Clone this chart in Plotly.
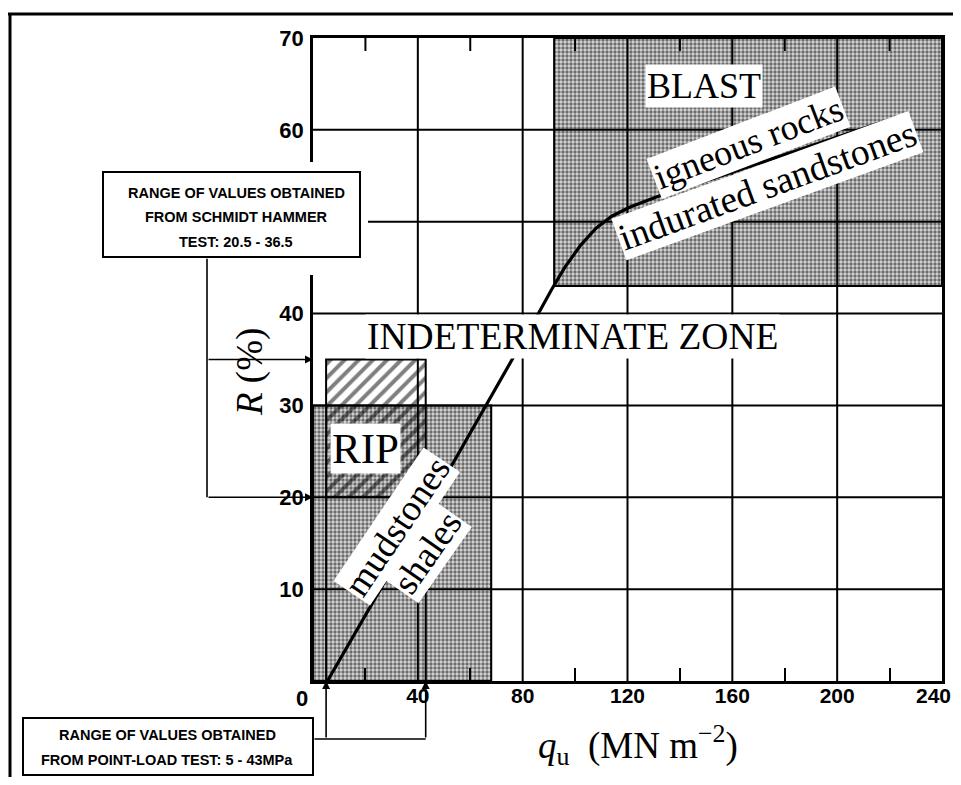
import plotly.graph_objects as go

# ---------------- data ----------------
q_tick_vals = [40, 80, 120, 160, 200, 240]
q_tick_text = ["40", "80", "120", "160", "200", "240"]
q_minor_ticks = [20, 60, 100, 140, 180, 220]
r_tick_vals = [10, 20, 30, 40, 60, 70]
r_tick_text = ["10", "20", "30", "40", "60", "70"]
grid_q = [40, 80, 120, 160, 200]
grid_r = [10, 20, 30, 40, 50, 60]

# boundary curve between rock types
curve_q = [5.5, 46, 86, 91, 96, 102, 108, 114, 121, 131, 160, 180, 200, 223]
curve_r = [0.0, 20.0, 40.0, 42.6, 45.0, 47.4, 49.3, 50.6, 51.6, 52.7, 55.4, 57.3, 59.2, 61.4]

# zones
rip_q = [0, 68]
rip_r = [0, 30]
blast_q = [92, 240]
blast_r = [43, 70]
schmidt_r = [20, 35]        # Schmidt hammer range (as drawn)
pointload_q = [5, 43]       # point-load range

Q_RANGE = [0, 240]
R_RANGE = [0, 70]

# ---------------- figure ----------------
OFF = 8                       # page body margin
W, H = 961 - OFF, 785 - 2 * OFF
ML, MT = 313 - OFF, 38 - OFF
PW, PH = 629, 643
MR, MB = W - ML - PW, H - MT - PH


def px_x(p):  # page pixel -> paper
    return (p - OFF - ML) / PW


def px_y(p):
    return (H - MB - (p - OFF)) / PH


def rect(qs, rs):
    return [qs[0], qs[1], qs[1], qs[0], qs[0]], [rs[0], rs[0], rs[1], rs[1], rs[0]]


fig = go.Figure()

stipple = dict(shape=".", size=4, solidity=0.55, fgcolor="black", bgcolor="#d8d8d8")

x, y = rect(rip_q, rip_r)
fig.add_trace(go.Scatter(x=x, y=y, mode="lines", fill="toself", fillcolor="white",
                         fillpattern=stipple, line=dict(color="black", width=2),
                         hoverinfo="skip", showlegend=False))
x, y = rect(blast_q, blast_r)
fig.add_trace(go.Scatter(x=x, y=y, mode="lines", fill="toself", fillcolor="white",
                         fillpattern=stipple, line=dict(color="black", width=2),
                         hoverinfo="skip", showlegend=False))
x, y = rect(pointload_q, schmidt_r)
fig.add_trace(go.Scatter(x=x, y=y, mode="lines", fill="toself", fillcolor="rgba(0,0,0,0)",
                         fillpattern=dict(shape="/", size=10, solidity=0.4, fgcolor="black",
                                          bgcolor="rgba(0,0,0,0)"),
                         line=dict(color="black", width=2),
                         hoverinfo="skip", showlegend=False))
# vertical guides from the point-load range up to the hatched box
for qv in pointload_q:
    fig.add_trace(go.Scatter(x=[qv, qv], y=[0, schmidt_r[0]], mode="lines",
                             line=dict(color="black", width=2), hoverinfo="skip", showlegend=False))

fig.add_trace(go.Scatter(x=curve_q, y=curve_r, mode="lines", line=dict(color="black", width=3.2),
                         hoverinfo="skip", showlegend=False))

shapes = []
for gq in grid_q:
    shapes.append(dict(type="line", xref="x", yref="y", x0=gq, x1=gq, y0=R_RANGE[0], y1=R_RANGE[1],
                       line=dict(color="black", width=2), layer="above"))
for gr in grid_r:
    shapes.append(dict(type="line", xref="x", yref="y", x0=Q_RANGE[0], x1=Q_RANGE[1], y0=gr, y1=gr,
                       line=dict(color="black", width=2), layer="above"))
# inward minor ticks on the top edge
for mq in q_minor_ticks:
    shapes.append(dict(type="line", xref="x", yref="y", x0=mq, x1=mq, ysizemode="pixel",
                       yanchor=R_RANGE[1], y0=0, y1=-13, line=dict(color="black", width=2),
                       layer="above"))
# white area around the Schmidt box
shapes.append(dict(type="rect", xref="paper", yref="paper", x0=px_x(292), x1=px_x(368),
                   y0=px_y(275), y1=px_y(162), fillcolor="white", line=dict(width=0), layer="above"))
# annotation boxes
shapes.append(dict(type="rect", xref="paper", yref="paper", x0=px_x(103), x1=px_x(360),
                   y0=px_y(257), y1=px_y(172), fillcolor="white", line=dict(color="black", width=2),
                   layer="above"))
shapes.append(dict(type="rect", xref="paper", yref="paper", x0=px_x(23), x1=px_x(313),
                   y0=px_y(775), y1=px_y(718), fillcolor="white", line=dict(color="black", width=2),
                   layer="above"))
# outer frame (top and left)
shapes.append(dict(type="line", xref="paper", yref="paper", x0=px_x(7), x1=px_x(975),
                   y0=px_y(14), y1=px_y(14), line=dict(color="black", width=3)))
shapes.append(dict(type="line", xref="paper", yref="paper", x0=px_x(10), x1=px_x(10),
                   y0=px_y(14), y1=px_y(782), line=dict(color="black", width=3)))

serif = "Liberation Serif, Times New Roman, serif"
sans = "Liberation Sans, Arial, sans-serif"

ann = []


def label(text, q, r, size, angle=0, bg="white"):
    ann.append(dict(text=text, x=q, y=r, xref="x", yref="y", showarrow=False, textangle=angle,
                    xanchor="center", yanchor="middle",
                    font=dict(family=serif, size=size, color="black"), bgcolor=bg, borderpad=1))


def ptext(text, px, py, font, angle=0, xanchor="center"):
    ann.append(dict(text=text, x=px_x(px), y=px_y(py), xref="paper", yref="paper", showarrow=False,
                    xanchor=xanchor, yanchor="middle", textangle=angle, font=font))


label("BLAST", 149, 64.8, 36)
label("igneous rocks", 166.0, 58.6, 36, -21)
label("indurated sandstones", 173.5, 53.9, 37.5, -20)
label("INDETERMINATE ZONE", 98.9, 37.5, 37.5)
label("RIP", 20.2, 25.3, 43)
label("mudstones", 32, 16.8, 37, -56)
label("shales", 43.5, 14.0, 37, -55)

titlefont = dict(family=serif, size=37, color="black")
ptext("<i>q</i><sub>u</sub>  (MN m<sup>−2</sup>)", 638, 745, titlefont)
ptext("<i>R</i> (%)", 250, 372, titlefont, -90)
tickfont = dict(family=sans, size=22, color="black", weight="bold")
xtickfont = dict(family=sans, size=21, color="black", weight="bold")
ptext("0", 302, 698, tickfont)
# last x tick label sits against the right edge, right-aligned so it stays visible
ann.append(dict(text=q_tick_text[-1], x=q_tick_vals[-1], y=0, xref="x", yref="y", showarrow=False,
                xanchor="right", yanchor="top", yshift=-1, xshift=11, font=xtickfont))

boxfont = dict(family=sans, size=14.5, color="black", weight="bold")
ptext("RANGE OF VALUES OBTAINED", 236, 193, boxfont)
ptext("FROM SCHMIDT HAMMER", 236, 217, boxfont)
ptext("TEST: 20.5 - 36.5", 236, 242, boxfont)
ptext("RANGE OF VALUES OBTAINED", 167, 735, boxfont)
ptext("FROM POINT-LOAD TEST: 5 - 43MPa", 167, 760, boxfont)

# connectors
arrow = dict(showarrow=True, text="", arrowcolor="black", arrowwidth=1.6, standoff=0, startstandoff=0)
for rv in schmidt_r:
    ann.append(dict(arrow, x=0, y=rv, xref="x", yref="y", ax=-106, ay=0, arrowhead=2, arrowsize=1))
ann.append(dict(arrow, x=0, y=schmidt_r[0], xref="x", yref="y", xshift=-106, ax=0, ay=-240, arrowhead=0))
for qv in pointload_q:
    ann.append(dict(arrow, x=qv, y=0, xref="x", yref="y", ax=0, ay=58, arrowhead=2, arrowsize=1))
ann.append(dict(arrow, x=pointload_q[1], y=0, xref="x", yref="y", axref="x", ax=0, ay=0,
                yshift=-58, arrowhead=0))

fig.update_layout(
    width=W, height=H, margin=dict(l=ML, r=MR, t=MT, b=MB, autoexpand=False),
    paper_bgcolor="white", plot_bgcolor="white",
    shapes=shapes, annotations=ann, showlegend=False,
    xaxis=dict(range=Q_RANGE, tickmode="array", tickvals=q_tick_vals[:-1], ticktext=q_tick_text[:-1],
               showgrid=False, zeroline=False, showline=True, linecolor="black", linewidth=2.5,
               mirror=True, ticks="", tickfont=xtickfont, layer="above traces", automargin=False,
               ticklabelstandoff=-6,
               minor=dict(tickmode="array", tickvals=q_minor_ticks, ticks="inside", ticklen=13,
                          tickwidth=2, tickcolor="black", showgrid=False)),
    yaxis=dict(range=R_RANGE, tickmode="array", tickvals=r_tick_vals, ticktext=r_tick_text,
               showgrid=False, zeroline=False, showline=True, linecolor="black", linewidth=2.5,
               mirror=True, ticks="", tickfont=tickfont, layer="above traces", automargin=False,
               ticklabelstandoff=2),
)

fig.write_html("out.html")
